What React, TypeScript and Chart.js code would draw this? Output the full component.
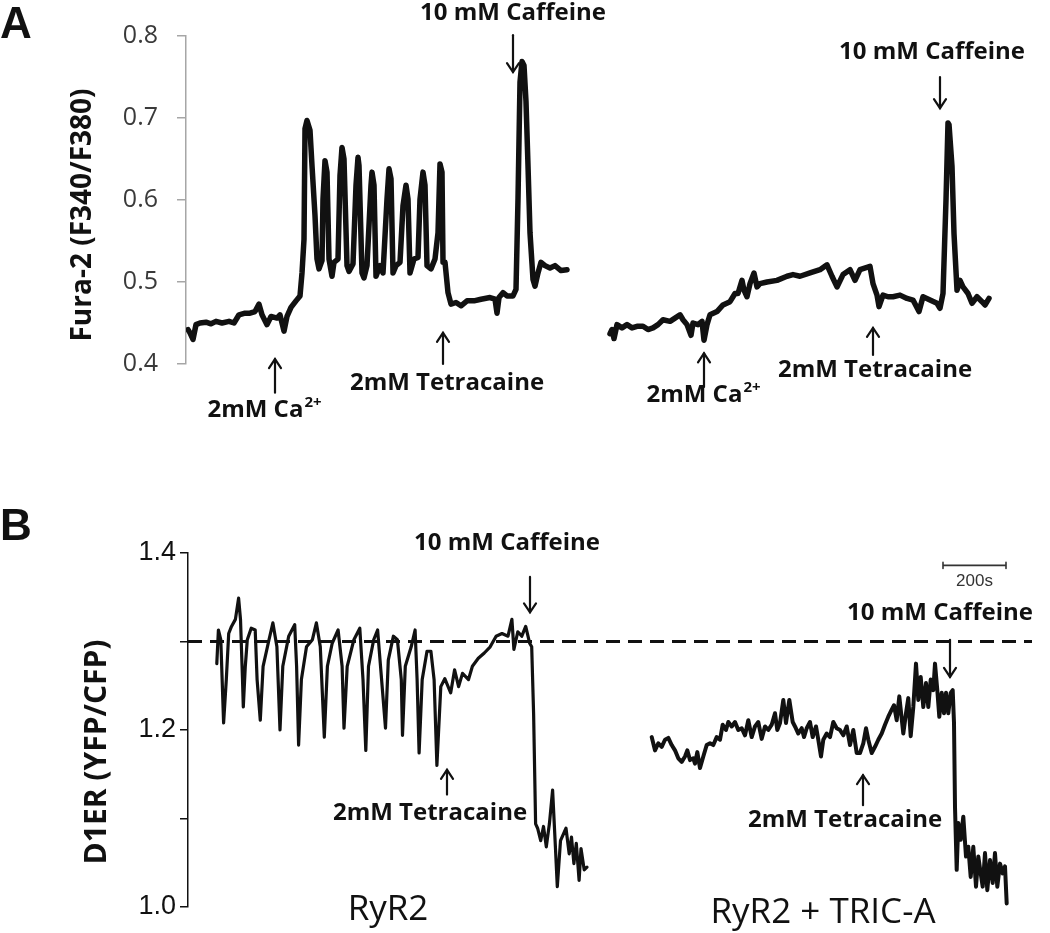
import React, { useEffect, useRef } from 'react';
import { Chart, registerables } from 'chart.js';

Chart.register(...registerables);

// ---------------- Panel A: Fura-2 ratio (F340/F380) ----------------
// x = recording time (frames), y = ratio
const A_LEFT_T = [2, 4, 7, 10, 14, 20, 25, 30, 36, 43, 48, 53, 59, 64, 69, 73, 76, 81, 85, 91, 94, 98, 101, 105, 110, 114, 116, 118, 119, 121, 124, 126, 129, 131, 133, 136, 137, 139, 141, 143, 146, 148, 152, 154, 156, 158, 161, 163, 167, 170, 172, 173, 176, 178, 181, 185, 186, 188, 190, 194, 197, 201, 203, 205, 207, 210, 214, 217, 220, 222, 224, 228, 232, 234, 237, 239, 241, 245, 249, 252, 254, 256, 257, 259, 262, 265, 270, 275, 281, 288, 295, 304, 309, 311, 313, 317, 321, 327, 330, 332, 334, 336, 338, 340, 342, 344, 347, 349, 352, 355, 359, 364, 369, 375, 381];
const A_LEFT_V = [0.442, 0.438, 0.430, 0.448, 0.450, 0.451, 0.449, 0.452, 0.450, 0.452, 0.450, 0.460, 0.462, 0.462, 0.464, 0.473, 0.460, 0.448, 0.458, 0.456, 0.460, 0.440, 0.458, 0.469, 0.477, 0.483, 0.511, 0.552, 0.687, 0.697, 0.685, 0.642, 0.581, 0.528, 0.516, 0.526, 0.601, 0.648, 0.634, 0.528, 0.507, 0.524, 0.528, 0.630, 0.664, 0.650, 0.520, 0.513, 0.522, 0.618, 0.652, 0.642, 0.511, 0.505, 0.520, 0.618, 0.634, 0.618, 0.507, 0.520, 0.511, 0.601, 0.638, 0.626, 0.511, 0.520, 0.524, 0.593, 0.618, 0.601, 0.511, 0.528, 0.530, 0.601, 0.634, 0.618, 0.520, 0.516, 0.528, 0.560, 0.644, 0.634, 0.524, 0.524, 0.487, 0.473, 0.475, 0.471, 0.477, 0.477, 0.479, 0.481, 0.479, 0.462, 0.481, 0.487, 0.483, 0.483, 0.491, 0.601, 0.744, 0.769, 0.764, 0.720, 0.642, 0.560, 0.503, 0.495, 0.511, 0.524, 0.520, 0.517, 0.520, 0.514, 0.515];

const A_RIGHT_T = [424, 426, 428, 431, 436, 441, 446, 451, 457, 462, 467, 472, 477, 484, 489, 494, 497, 501, 505, 507, 512, 516, 518, 521, 524, 531, 537, 544, 549, 552, 556, 558, 561, 564, 568, 571, 574, 581, 591, 601, 607, 614, 624, 634, 641, 646, 651, 657, 664, 669, 674, 684, 687, 691, 693, 697, 702, 707, 714, 721, 727, 733, 737, 744, 751, 754, 757, 760, 762, 763, 766, 768, 771, 774, 777, 782, 786, 791, 796, 799, 803];
const A_RIGHT_V = [0.437, 0.442, 0.431, 0.448, 0.444, 0.448, 0.444, 0.446, 0.446, 0.442, 0.444, 0.448, 0.454, 0.452, 0.456, 0.460, 0.454, 0.448, 0.435, 0.450, 0.448, 0.452, 0.429, 0.448, 0.460, 0.464, 0.472, 0.476, 0.486, 0.486, 0.502, 0.490, 0.482, 0.498, 0.511, 0.494, 0.498, 0.500, 0.502, 0.507, 0.509, 0.507, 0.511, 0.515, 0.521, 0.507, 0.494, 0.509, 0.515, 0.502, 0.515, 0.519, 0.498, 0.484, 0.470, 0.484, 0.482, 0.482, 0.484, 0.480, 0.478, 0.464, 0.482, 0.478, 0.474, 0.468, 0.486, 0.600, 0.694, 0.692, 0.641, 0.559, 0.490, 0.502, 0.494, 0.486, 0.474, 0.482, 0.476, 0.472, 0.480];

const A_TICKS = [0.4, 0.5, 0.6, 0.7, 0.8];

// ---------------- Panel B: D1ER (YFP/CFP) ----------------
const B_LEFT_T = [28.8, 30.4, 32.8, 35.6, 38.3, 40.7, 43.5, 47.4, 50.6, 52.5, 54.5, 55.3, 57.3, 59.3, 63.2, 67.2, 69.1, 72.3, 75.1, 81, 84.9, 88.9, 92, 94.8, 100.7, 106.7, 108.6, 110.6, 113.4, 118.5, 124.4, 128.4, 132.3, 136.3, 139.4, 144.2, 150.1, 154.1, 156, 159.2, 165.9, 171.8, 175, 177.8, 180.5, 185.7, 189.6, 193.6, 197.5, 200.3, 205.4, 209.4, 213.3, 214.5, 217.3, 223.2, 227.1, 229.1, 231.1, 234.2, 239, 242.9, 246.1, 248.9, 252.8, 256.8, 262.7, 266.6, 270.6, 274.5, 280.5, 284.4, 290.3, 296.3, 302.2, 308.1, 314, 320, 323.9, 325.9, 329.8, 333.8, 337.7, 341.7, 343.7, 345.6, 347.6, 349.6, 352.7, 355.5, 358.3, 361.4, 364.6, 367.4, 369.3, 372.5, 378, 381.2, 383.5, 385.9, 388.3, 391.1, 393, 396.2, 399];
const B_LEFT_V = [1.275, 1.313, 1.302, 1.208, 1.257, 1.309, 1.317, 1.325, 1.349, 1.325, 1.257, 1.226, 1.272, 1.302, 1.315, 1.313, 1.257, 1.211, 1.272, 1.302, 1.321, 1.294, 1.200, 1.272, 1.306, 1.319, 1.272, 1.183, 1.257, 1.294, 1.302, 1.321, 1.294, 1.192, 1.272, 1.298, 1.313, 1.272, 1.202, 1.272, 1.302, 1.315, 1.257, 1.177, 1.272, 1.302, 1.313, 1.257, 1.202, 1.279, 1.306, 1.302, 1.257, 1.194, 1.272, 1.294, 1.313, 1.257, 1.174, 1.257, 1.289, 1.289, 1.257, 1.160, 1.249, 1.258, 1.242, 1.268, 1.249, 1.264, 1.257, 1.272, 1.281, 1.287, 1.294, 1.306, 1.309, 1.306, 1.325, 1.291, 1.311, 1.306, 1.317, 1.298, 1.294, 1.219, 1.094, 1.089, 1.075, 1.091, 1.068, 1.094, 1.132, 1.068, 1.023, 1.075, 1.089, 1.060, 1.079, 1.049, 1.072, 1.030, 1.066, 1.042, 1.045];

const B_RIGHT_T = [463.7, 467, 470.3, 473.7, 477, 480.3, 483.7, 487, 490.3, 493.7, 497, 499.3, 502, 505.3, 507, 509.3, 512, 515.3, 518.7, 522, 525.3, 528.7, 532, 534.7, 538, 540.3, 543.7, 547, 550.3, 553.7, 557, 560.3, 563.7, 567, 570.3, 573.7, 577, 580.3, 583.7, 587, 589.3, 592, 595.3, 598, 601.3, 604.7, 607, 610.3, 613.7, 616, 618.7, 622, 624.7, 628, 630.3, 633, 635.3, 638.7, 642, 645.3, 648.7, 652, 655.3, 658.7, 662, 665.3, 668.7, 672, 675.3, 678, 680.3, 683.7, 687, 690.3, 693.7, 697, 700.3, 703.7, 706, 708.7, 711.3, 715.3, 718, 720.3, 722.7, 725.3, 728, 730.3, 732.7, 735.3, 738, 740.3, 742.7, 745.3, 747, 749.3, 751.3, 753.7, 756, 758, 760.3, 762.7, 764.7, 766, 767, 768.7, 770.3, 772.7, 775.3, 778, 780.3, 782.7, 785.3, 788, 790.3, 792.7, 794.7, 797, 799.3, 802, 804.7, 807, 809.3, 812, 814.7, 817, 818.7];
const B_RIGHT_V = [1.192, 1.177, 1.185, 1.181, 1.189, 1.191, 1.183, 1.177, 1.168, 1.164, 1.170, 1.177, 1.166, 1.168, 1.162, 1.175, 1.157, 1.170, 1.183, 1.185, 1.183, 1.192, 1.189, 1.206, 1.200, 1.209, 1.204, 1.209, 1.200, 1.202, 1.194, 1.211, 1.192, 1.204, 1.209, 1.190, 1.204, 1.200, 1.206, 1.219, 1.200, 1.208, 1.234, 1.208, 1.234, 1.209, 1.204, 1.196, 1.202, 1.192, 1.202, 1.209, 1.192, 1.204, 1.189, 1.170, 1.189, 1.196, 1.192, 1.209, 1.202, 1.200, 1.194, 1.204, 1.183, 1.200, 1.174, 1.174, 1.185, 1.202, 1.189, 1.174, 1.181, 1.189, 1.196, 1.206, 1.215, 1.223, 1.228, 1.211, 1.238, 1.196, 1.219, 1.236, 1.193, 1.226, 1.275, 1.234, 1.260, 1.226, 1.253, 1.226, 1.257, 1.245, 1.275, 1.245, 1.215, 1.242, 1.219, 1.242, 1.219, 1.242, 1.245, 1.208, 1.113, 1.042, 1.095, 1.076, 1.102, 1.057, 1.068, 1.034, 1.068, 1.023, 1.057, 1.038, 1.023, 1.061, 1.019, 1.053, 1.027, 1.061, 1.023, 1.049, 1.038, 1.046, 1.004];

const B_REF_LEVEL = 1.3;
const B_REF_SPAN = [0, 844];
const B_TICK_LABELS = ['1.0', '1.2', '1.4'];
const B_SCALE_BAR = { from: 755, to: 818, label: '200s' };

// ---------------- helpers ----------------
const pts = (t: number[], v: number[]) => t.map((x, i) => ({ x, y: v[i] }));

type Arrow = { x: number; from: number; to: number };
type Label = { text: string; sup?: string; x: number; y: number; font: string };
type Fixed = { text: string; px: number; py: number; font: string; rotate?: boolean; align?: CanvasTextAlign; baseline?: CanvasTextBaseline };

const annotPlugin = {
  id: 'annot',
  afterDatasetsDraw(chart: any, _a: any, opts: any) {
    const { ctx } = chart;
    const xs = chart.scales.x;
    const ys = chart.scales.y;
    ctx.save();
    ctx.fillStyle = '#111';
    ctx.strokeStyle = '#111';
    (opts.arrows || []).forEach((a: Arrow) => {
      const px = xs.getPixelForValue(a.x);
      const p1 = ys.getPixelForValue(a.from);
      const p2 = ys.getPixelForValue(a.to);
      const dir = p2 > p1 ? 1 : -1;
      ctx.lineWidth = 2.2;
      ctx.lineCap = 'round';
      ctx.beginPath();
      ctx.moveTo(px, p1);
      ctx.lineTo(px, p2);
      ctx.stroke();
      ctx.beginPath();
      ctx.moveTo(px - 6, p2 - dir * 9);
      ctx.lineTo(px, p2);
      ctx.lineTo(px + 6, p2 - dir * 9);
      ctx.stroke();
    });
    (opts.labels || []).forEach((l: Label) => {
      const px = xs.getPixelForValue(l.x);
      const py = ys.getPixelForValue(l.y);
      ctx.font = l.font;
      ctx.textBaseline = 'middle';
      ctx.textAlign = 'left';
      const w1 = ctx.measureText(l.text).width;
      let w2 = 0;
      const size = parseFloat((l.font.match(/(\d+(\.\d+)?)px/) || ['', '20'])[1]);
      const supFont = l.font.replace(/\d+(\.\d+)?px/, Math.round(size * 0.62) + 'px');
      if (l.sup) {
        ctx.font = supFont;
        w2 = ctx.measureText(l.sup).width;
      }
      const x0 = px - (w1 + w2) / 2;
      ctx.font = l.font;
      ctx.fillText(l.text, x0, py);
      if (l.sup) {
        ctx.font = supFont;
        ctx.fillText(l.sup, x0 + w1 + 1, py - size * 0.3);
      }
    });
    if (opts.scaleBar) {
      const s = opts.scaleBar;
      const x1 = xs.getPixelForValue(s.from);
      const x2 = xs.getPixelForValue(s.to);
      const y = ys.getPixelForValue(s.y);
      ctx.strokeStyle = '#333';
      ctx.lineWidth = 1.6;
      ctx.beginPath();
      ctx.moveTo(x1, y); ctx.lineTo(x2, y);
      ctx.moveTo(x1, y - 3); ctx.lineTo(x1, y + 3);
      ctx.moveTo(x2, y - 3); ctx.lineTo(x2, y + 3);
      ctx.stroke();
      ctx.fillStyle = '#333';
      ctx.font = '17px "Liberation Sans", Arial, sans-serif';
      ctx.textAlign = 'center';
      ctx.textBaseline = 'middle';
      ctx.fillText(s.label, (x1 + x2) / 2, ys.getPixelForValue(s.labelY));
    }
    (opts.fixed || []).forEach((f: Fixed) => {
      ctx.save();
      ctx.fillStyle = '#111';
      ctx.font = f.font;
      ctx.textAlign = f.align || 'center';
      ctx.textBaseline = f.baseline || 'middle';
      ctx.translate(f.px, f.py);
      if (f.rotate) ctx.rotate(-Math.PI / 2);
      ctx.fillText(f.text, 0, 0);
      ctx.restore();
    });
    ctx.restore();
  },
};

const BOLD = 'bold 24px "Open Sans", sans-serif';

export default function App() {
  const refA = useRef<HTMLCanvasElement>(null);
  const refB = useRef<HTMLCanvasElement>(null);

  useEffect(() => {
    document.body.style.margin = '0';
    const lineDs = (data: any[], w: number) => ({
      data,
      borderColor: '#111',
      borderWidth: w,
      pointRadius: 0,
      tension: 0,
      borderJoinStyle: 'round' as const,
      borderCapStyle: 'round' as const,
      fill: false,
    });

    const chartA = new Chart(refA.current!, {
      type: 'line',
      data: {
        datasets: [lineDs(pts(A_LEFT_T, A_LEFT_V), 5.5), lineDs(pts(A_RIGHT_T, A_RIGHT_V), 5.5)],
      },
      plugins: [annotPlugin as any],
      options: {
        responsive: false,
        animation: false,
        layout: { padding: { left: 0, top: 36, right: 10, bottom: 96 }, autoPadding: false } as any,
        scales: {
          x: { type: 'linear', display: false, min: 0, max: 854 },
          y: {
            min: A_TICKS[0],
            max: A_TICKS[A_TICKS.length - 1],
            afterFit: (s: any) => { s.width = 186; },
            ticks: {
              stepSize: 0.1,
              padding: 19,
              color: '#3a3a3a',
              font: { family: '"Open Sans", sans-serif', size: 25 },
              callback: (v: any) => Number(v).toFixed(1),
            },
            grid: { drawOnChartArea: false, drawTicks: true, tickLength: 9, color: '#a6a6a6', lineWidth: 1.5 },
            border: { color: '#a6a6a6', width: 1.5 },
          },
        },
        plugins: {
          legend: { display: false },
          tooltip: { enabled: false },
          annot: {
            arrows: [
              { x: 327, from: 0.801, to: 0.756 },
              { x: 89, from: 0.365, to: 0.406 },
              { x: 257, from: 0.400, to: 0.438 },
              { x: 754, from: 0.750, to: 0.712 },
              { x: 518, from: 0.372, to: 0.413 },
              { x: 687, from: 0.411, to: 0.444 },
            ],
            labels: [
              { text: '10 mM Caffeine', x: 327, y: 0.828, font: BOLD },
              { text: '2mM Ca', sup: '2+', x: 78, y: 0.344, font: BOLD },
              { text: '2mM Tetracaine', x: 261, y: 0.377, font: BOLD },
              { text: '10 mM Caffeine', x: 746, y: 0.780, font: BOLD },
              { text: '2mM Ca', sup: '2+', x: 517, y: 0.362, font: BOLD },
              { text: '2mM Tetracaine', x: 689, y: 0.393, font: BOLD },
            ],
            fixed: [
              { text: 'A', px: 0, py: 38, font: 'bold 44px "Liberation Sans", Arial, sans-serif', align: 'left', baseline: 'alphabetic' },
              { text: 'Fura-2 (F340/F380)', px: 83, py: 215, font: 'bold 28px "Open Sans", sans-serif', rotate: true },
            ],
          },
        } as any,
      },
    });

    const chartB = new Chart(refB.current!, {
      type: 'line',
      data: {
        datasets: [
          lineDs(pts(B_LEFT_T, B_LEFT_V), 3.2),
          lineDs(pts(B_RIGHT_T, B_RIGHT_V), 4),
          {
            ...lineDs(B_REF_SPAN.map((x) => ({ x, y: B_REF_LEVEL })), 3),
            borderDash: [14, 8],
            borderCapStyle: 'butt' as const,
          },
        ],
      },
      plugins: [annotPlugin as any],
      options: {
        responsive: false,
        animation: false,
        layout: { padding: { left: 0, top: 83, right: 10, bottom: 26 }, autoPadding: false } as any,
        scales: {
          x: { type: 'linear', display: false, min: 0, max: 852 },
          y: {
            min: 1.0,
            max: 1.4,
            afterFit: (s: any) => { s.width = 188; },
            ticks: {
              stepSize: 0.1,
              padding: 4,
              color: '#111',
              font: { family: '"Liberation Sans", Arial, sans-serif', size: 27 },
              callback: (v: any) => {
                const s = Number(v).toFixed(1);
                return B_TICK_LABELS.includes(s) ? s : '';
              },
            },
            grid: { drawOnChartArea: false, drawTicks: true, tickLength: 8, color: '#111', lineWidth: 1.5 },
            border: { color: '#111', width: 1.5 },
          },
        },
        plugins: {
          legend: { display: false },
          tooltip: { enabled: false },
          annot: {
            arrows: [
              { x: 342, from: 1.373, to: 1.333 },
              { x: 259, from: 1.127, to: 1.155 },
              { x: 762, from: 1.302, to: 1.260 },
              { x: 675, from: 1.115, to: 1.149 },
            ],
            labels: [
              { text: '10 mM Caffeine', x: 319, y: 1.411, font: BOLD },
              { text: '2mM Tetracaine', x: 242, y: 1.106, font: BOLD },
              { text: '10 mM Caffeine', x: 752, y: 1.332, font: BOLD },
              { text: '2mM Tetracaine', x: 657, y: 1.098, font: BOLD },
              { text: 'RyR2', x: 200, y: 0.997, font: '35px "Open Sans", sans-serif' },
              { text: 'RyR2 + TRIC-A', x: 635, y: 0.993, font: '35px "Open Sans", sans-serif' },
            ],
            scaleBar: { ...B_SCALE_BAR, y: 1.386, labelY: 1.368 },
            fixed: [
              { text: 'B', px: 0, py: 70, font: 'bold 44px "Liberation Sans", Arial, sans-serif', align: 'left', baseline: 'alphabetic' },
              { text: 'D1ER (YFP/CFP)', px: 97, py: 282, font: 'bold 30px "Open Sans", sans-serif', rotate: true },
            ],
          },
        } as any,
      },
    });

    return () => {
      chartA.destroy();
      chartB.destroy();
    };
  }, []);

  return (
    <div style={{ position: 'relative', width: 1050, height: 933, background: '#fff', overflow: 'hidden' }}>
      <canvas ref={refA} width={1050} height={460} style={{ position: 'absolute', left: 0, top: 0, display: 'block' }} />
      <canvas ref={refB} width={1050} height={463} style={{ position: 'absolute', left: 0, top: 470, display: 'block' }} />
    </div>
  );
}
